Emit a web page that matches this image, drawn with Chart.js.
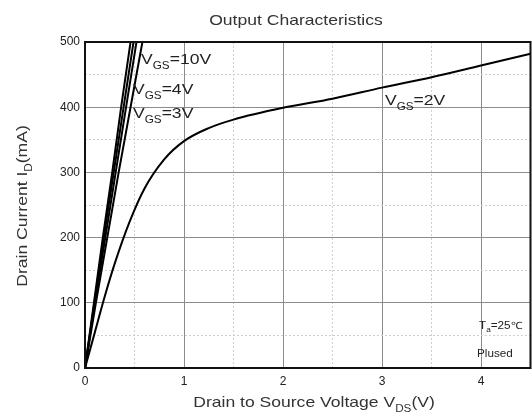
<!DOCTYPE html>
<html>
<head>
<meta charset="utf-8">
<script src="https://cdn.jsdelivr.net/npm/chart.js@4.4.0/dist/chart.umd.min.js"></script>
<style>
  html, body { margin: 0; padding: 0; background: #fff; }
  canvas { display: block; }
</style>
</head>
<body>
<canvas id="chart" width="532" height="419"></canvas>
<script>
// VGS=2V curve
const vds2 = [0, 0.1, 0.2, 0.3, 0.45, 0.6, 0.8, 1.0, 1.25, 1.5, 2.0, 2.5, 3.0, 3.5, 4.0, 4.5];
const id2 = [0, 55, 110, 160, 224, 275, 320, 348, 368, 381, 399, 413, 430, 446, 464, 482];

// steep curves (VGS=10V, unlabelled, 4V, 3V) share the same current points
const idSteep = [0, 100, 200, 300, 400, 500];
const vds10 = [0, 0.09, 0.18, 0.275, 0.365, 0.46];
const vdsMid = [0, 0.095, 0.19, 0.29, 0.39, 0.49];
const vds4 = [0, 0.10, 0.205, 0.31, 0.415, 0.52];
const vds3 = [0, 0.11, 0.225, 0.34, 0.46, 0.58];

const xTicks = [0, 1, 2, 3, 4];
const yTicks = [0, 100, 200, 300, 400, 500];

const FONT = '"Liberation Sans", Arial, sans-serif';
const STRETCH = 1.17;

function toPoints(xs, ys) {
    return xs.map((x, i) => ({ x: x, y: ys[i] }));
}

function curve(label, xs, ys, smooth) {
    return {
        label: label,
        data: toPoints(xs, ys),
        borderColor: '#000',
        borderWidth: 2,
        pointRadius: 0,
        fill: false,
        tension: smooth ? 0.4 : 0,
        cubicInterpolationMode: smooth ? 'monotone' : 'default'
    };
}

// measure / draw text made of normal and subscript parts
function partsWidth(ctx, parts, size, subSize) {
    let w = 0;
    parts.forEach(p => {
        ctx.font = (p.sub ? subSize : size) + 'px ' + FONT;
        w += ctx.measureText(p.t).width;
    });
    return w;
}

function drawParts(ctx, parts, x, y, size, subSize, align) {
    ctx.save();
    ctx.translate(x, y);
    ctx.scale(STRETCH, 1);
    let cx = 0;
    if (align === 'center') cx = -partsWidth(ctx, parts, size, subSize) / 2;
    ctx.textBaseline = 'alphabetic';
    ctx.textAlign = 'left';
    parts.forEach(p => {
        ctx.font = (p.sub ? subSize : size) + 'px ' + FONT;
        ctx.fillText(p.t, cx, p.sub ? Math.round(size * 0.3) : 0);
        cx += ctx.measureText(p.t).width;
    });
    ctx.restore();
}

const labels = [
    { x: 0.566, y: 466, parts: [{ t: 'V' }, { t: 'GS', sub: true }, { t: '=10V' }] },
    { x: 0.485, y: 421, parts: [{ t: 'V' }, { t: 'GS', sub: true }, { t: '=4V' }] },
    { x: 0.485, y: 383, parts: [{ t: 'V' }, { t: 'GS', sub: true }, { t: '=3V' }] },
    { x: 3.03, y: 404, parts: [{ t: 'V' }, { t: 'GS', sub: true }, { t: '=2V' }] }
];

const textPlugin = {
    id: 'textPlugin',
    afterDraw(chart) {
        const ctx = chart.ctx;
        const a = chart.chartArea;
        const xs = chart.scales.x;
        const ys = chart.scales.y;

        // frame
        ctx.save();
        ctx.strokeStyle = '#111';
        ctx.lineWidth = 2;
        ctx.strokeRect(a.left, a.top, a.right - a.left, a.bottom - a.top);
        ctx.restore();

        ctx.save();
        ctx.fillStyle = '#222';
        labels.forEach(l => {
            drawParts(ctx, l.parts, xs.getPixelForValue(l.x), ys.getPixelForValue(l.y), 15, 10, 'left');
        });

        // conditions box
        drawParts(ctx, [{ t: 'T' }, { t: 'a', sub: true }, { t: '=25℃' }], 479, 329, 10, 7, 'left');
        drawParts(ctx, [{ t: 'Plused' }], 477, 357, 10, 7, 'left');

        // title
        ctx.fillStyle = '#333';
        drawParts(ctx, [{ t: 'Output Characteristics' }], 296, 25, 15, 10, 'center');

        // x axis title
        drawParts(ctx, [{ t: 'Drain to Source Voltage V' }, { t: 'DS', sub: true }, { t: '(V)' }], 314, 407, 15, 10, 'center');

        // y axis title
        ctx.save();
        ctx.translate(27, 206);
        ctx.rotate(-Math.PI / 2);
        drawParts(ctx, [{ t: 'Drain Current I' }, { t: 'D', sub: true }, { t: '(mA)' }], 0, 0, 15, 10, 'center');
        ctx.restore();
        ctx.restore();
    }
};

function isMajorX(v) { return xTicks.includes(Math.round(v * 1000) / 1000); }
function isMajorY(v) { return yTicks.includes(v); }

new Chart(document.getElementById('chart').getContext('2d'), {
    type: 'line',
    data: {
        datasets: [
            curve('VGS=10V', vds10, idSteep, false),
            curve('VGS (unlabelled)', vdsMid, idSteep, false),
            curve('VGS=4V', vds4, idSteep, false),
            curve('VGS=3V', vds3, idSteep, false),
            curve('VGS=2V', vds2, id2, true)
        ]
    },
    options: {
        responsive: false,
        animation: false,
        devicePixelRatio: 1,
        layout: { padding: { top: 42, right: 1.5, left: 0, bottom: 0 } },
        plugins: {
            legend: { display: false },
            tooltip: { enabled: false },
            title: { display: false }
        },
        scales: {
            x: {
                type: 'linear',
                min: 0,
                max: 4.5,
                afterFit: s => { s.height = 51; s.paddingRight = 0; },
                ticks: {
                    stepSize: 0.5,
                    padding: 6,
                    color: '#222',
                    font: { family: FONT, size: 12 },
                    maxRotation: 0,
                    autoSkip: false,
                    callback: v => xTicks.includes(v) ? String(v) : ''
                },
                grid: {
                    drawTicks: false,
                    color: c => (c.tick && isMajorX(c.tick.value)) ? '#8c8c8c' : '#cfcfcf',
                    lineWidth: 1
                },
                border: {
                    display: false,
                    dash: c => (c.tick && isMajorX(c.tick.value)) ? [] : [2, 2]
                }
            },
            y: {
                type: 'linear',
                min: 0,
                max: 500,
                afterFit: s => { s.width = 85; },
                ticks: {
                    stepSize: 50,
                    padding: 5,
                    color: '#222',
                    font: { family: FONT, size: 12 },
                    autoSkip: false,
                    callback: v => yTicks.includes(v) ? String(v) : ''
                },
                grid: {
                    drawTicks: false,
                    color: c => (c.tick && isMajorY(c.tick.value)) ? '#8c8c8c' : '#cfcfcf',
                    lineWidth: 1
                },
                border: {
                    display: false,
                    dash: c => (c.tick && isMajorY(c.tick.value)) ? [] : [2, 2]
                }
            }
        }
    },
    plugins: [textPlugin]
});
</script>
</body>
</html>
